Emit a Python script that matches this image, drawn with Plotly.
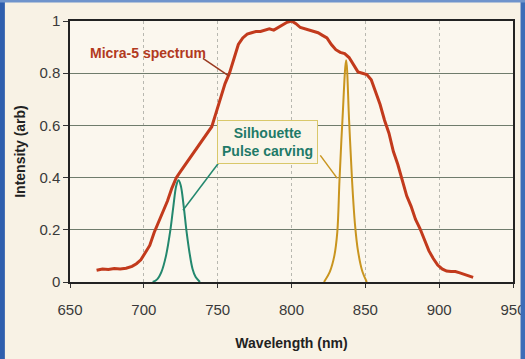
import plotly.graph_objects as go

# Micra-5 spectrum
spec_wl = [668, 672, 676, 680, 684, 688, 692, 695, 698, 701, 704, 707, 710, 713, 716, 719,
           722, 725, 728, 731, 734, 737, 740, 743, 746, 749, 752, 755, 758, 761, 764, 767,
           770, 773, 776, 779, 782, 785, 788, 791, 794, 797, 800, 803, 806, 809, 812, 815,
           818, 821, 824, 827, 830, 833, 836, 839, 842, 845, 848, 851, 854, 857, 860, 863,
           866, 869, 872, 875, 878, 881, 884, 887, 890, 893, 896, 899, 902, 905, 908, 911,
           914, 917, 920, 923]
spec_val = [0.045, 0.05, 0.048, 0.052, 0.05, 0.053, 0.06, 0.07, 0.085, 0.11, 0.14, 0.19, 0.23, 0.27, 0.31, 0.36,
            0.40, 0.425, 0.45, 0.47, 0.50, 0.52, 0.545, 0.57, 0.595, 0.65, 0.71, 0.76, 0.80, 0.86, 0.91, 0.935,
            0.95, 0.955, 0.96, 0.96, 0.965, 0.97, 0.965, 0.975, 0.985, 0.995, 1.0, 0.99, 0.975, 0.97, 0.965, 0.96,
            0.955, 0.945, 0.935, 0.91, 0.89, 0.88, 0.875, 0.86, 0.83, 0.805, 0.80, 0.795, 0.775, 0.73, 0.68, 0.62,
            0.57, 0.50, 0.45, 0.39, 0.33, 0.29, 0.24, 0.205, 0.16, 0.12, 0.09, 0.065, 0.05, 0.042, 0.04, 0.04,
            0.035, 0.03, 0.025, 0.018]

# Silhouette pulse (green)
sil_wl = [706, 709, 712, 715, 718, 720, 722, 723.5, 725, 727, 729, 731, 733, 735, 738]
sil_val = [0.0, 0.01, 0.04, 0.10, 0.20, 0.29, 0.37, 0.39, 0.37, 0.29, 0.19, 0.11, 0.05, 0.02, 0.0]

# Pulse carving (orange)
pc_wl = [822, 826, 829, 831, 832.5, 834.5, 837, 839, 841, 843, 845, 848, 851]
pc_val = [0.0, 0.04, 0.10, 0.19, 0.39, 0.62, 0.85, 0.62, 0.39, 0.22, 0.12, 0.04, 0.0]

x_ticks = [650, 700, 750, 800, 850, 900, 950]
y_ticks = [0, 0.2, 0.4, 0.6, 0.8, 1]
y_tick_text = ["0", "0.2", "0.4", "0.6", "0.8", "1"]

RED = "#c23a1c"
GREEN = "#23886e"
ORANGE = "#c9951f"
BG = "#f8f2e5"
FONT = "Liberation Sans, Arial, sans-serif"

fig = go.Figure()
fig.add_trace(go.Scatter(x=spec_wl, y=spec_val, mode="lines",
                         line=dict(color=RED, width=3), showlegend=False))
fig.add_trace(go.Scatter(x=sil_wl, y=sil_val, mode="lines",
                         line=dict(color=GREEN, width=2, shape="spline"), showlegend=False))
fig.add_trace(go.Scatter(x=pc_wl, y=pc_val, mode="lines",
                         line=dict(color=ORANGE, width=2, shape="spline"), showlegend=False))

shapes = [
    # leader lines
    dict(type="line", xref="x", yref="y", x0=740, y0=0.857, x1=757.5, y1=0.79,
         line=dict(color="#9a3a20", width=1.5)),
    dict(type="line", xref="x", yref="y", x0=750.5, y0=0.455, x1=726.5, y1=0.275,
         line=dict(color=GREEN, width=1.5)),
    dict(type="line", xref="x", yref="y", x0=819.5, y0=0.485, x1=831, y1=0.397,
         line=dict(color=ORANGE, width=1.5)),
    # blue frame
    dict(type="rect", xref="paper", yref="paper", x0=-0.16, x1=-0.147, y0=-0.3, y1=1.08,
         fillcolor="#2f5fae", line=dict(width=0), layer="above"),
    dict(type="rect", xref="paper", yref="paper", x0=1.017, x1=1.03, y0=-0.3, y1=1.08,
         fillcolor="#3d6cb8", line=dict(width=0), layer="above"),
    dict(type="rect", xref="paper", yref="paper", x0=-0.16, x1=1.03, y0=1.071, y1=1.08,
         fillcolor="#6f94cc", line=dict(width=0), layer="above"),
]

annotations = [
    dict(x=702.5, y=0.876, xref="x", yref="y", text="<b>Micra-5 spectrum</b>",
         showarrow=False, font=dict(family=FONT, size=14, color="#b23a1e")),
    dict(x=783.5, y=0.535, xref="x", yref="y",
         text="<b>Silhouette</b><br><b>Pulse carving</b>",
         showarrow=False, align="center",
         font=dict(family=FONT, size=14, color="#1f7a68"),
         bordercolor="#d9c86a", borderwidth=1, borderpad=4, bgcolor="#faf5e8"),
]

fig.update_layout(
    width=525, height=359,
    margin=dict(l=70, r=12, t=21, b=77),
    paper_bgcolor=BG, plot_bgcolor="#fbf7ee",
    font=dict(family=FONT, size=14, color="#333333"),
    shapes=shapes, annotations=annotations,
    xaxis=dict(range=[650, 950], tickvals=x_ticks, ticks="outside", ticklen=4,
               tickcolor="#333", showline=True, linecolor="#222", linewidth=1.5, mirror=True,
               showgrid=True, gridcolor="#b8b8b0", griddash="dot", gridwidth=1,
               zeroline=False, ticklabelstandoff=9, automargin=False, ticklabeloverflow="allow",
               title=dict(text="<b>Wavelength (nm)</b>", font=dict(size=14, color="#222"), standoff=21),
               tickfont=dict(size=15, color="#3a3a3a")),
    yaxis=dict(range=[0, 1], tickvals=y_ticks, ticktext=y_tick_text, ticks="outside", ticklen=5,
               tickcolor="#333", showline=True, linecolor="#222", linewidth=1.5, mirror=True,
               showgrid=True, gridcolor="#6f7c6c", gridwidth=1, zeroline=False, automargin=False,
               title=dict(text="<b>Intensity (arb)</b>", font=dict(size=14, color="#222"), standoff=10),
               tickfont=dict(size=15, color="#3a3a3a")),
)

fig.write_html("out.html")
